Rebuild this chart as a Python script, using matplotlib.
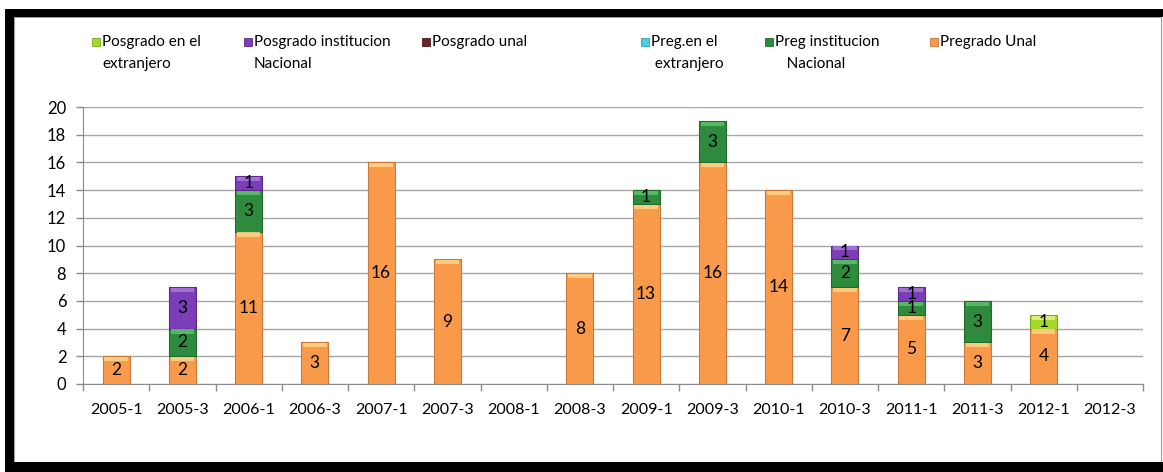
import matplotlib
matplotlib.use('Agg')
import matplotlib.pyplot as plt
from matplotlib.patches import Rectangle
import numpy as np

plt.rcParams['font.family'] = ['Lato', 'DejaVu Sans']

# periods and series values (bottom to top of each stack)
periods = ["2005-1", "2005-3", "2006-1", "2006-3", "2007-1", "2007-3", "2008-1", "2008-3",
           "2009-1", "2009-3", "2010-1", "2010-3", "2011-1", "2011-3", "2012-1", "2012-3"]
pregrado_unal = [2, 2, 11, 3, 16, 9, 0, 8, 13, 16, 14, 7, 5, 3, 4, 0]
preg_inst_nac = [0, 2, 3, 0, 0, 0, 0, 0, 1, 3, 0, 2, 1, 3, 0, 0]
preg_extranjero = [0] * 16
posgrado_unal = [0] * 16
posgrado_inst_nac = [0, 3, 1, 0, 0, 0, 0, 0, 0, 0, 0, 1, 1, 0, 0, 0]
posgrado_extranjero = [0, 0, 0, 0, 0, 0, 0, 0, 0, 0, 0, 0, 0, 0, 1, 0]

series = [
    ("Pregrado Unal", pregrado_unal, "#F89A4A", "#FFD488", "#C8793A"),
    ("Preg institucion\n   Nacional", preg_inst_nac, "#2E8B3D", "#5FC06B", "#226B2E"),
    ("Preg.en el\n extranjero", preg_extranjero, "#4BCFE0", "#9BEAF2", "#2FA0B0"),
    ("Posgrado unal", posgrado_unal, "#6A2525", "#A05050", "#4A1818"),
    ("Posgrado institucion\nNacional", posgrado_inst_nac, "#7B3DB8", "#A77BD8", "#5B2A8C"),
    ("Posgrado en el\nextranjero", posgrado_extranjero, "#A6D82A", "#E2F57A", "#7FA81E"),
]

W, H = 1163, 472
fig = plt.figure(figsize=(W / 100, H / 100), dpi=100)


def px_rect(x0, y0, x1, y1, **kw):
    # rectangle given in pixel coords measured from the top-left corner
    fig.add_artist(Rectangle((x0 / W, 1 - y1 / H), (x1 - x0) / W, (y1 - y0) / H,
                             transform=fig.transFigure, **kw))


# chart frame
px_rect(14, 17, 1161, 462, facecolor="white", edgecolor="#A0A0A0", linewidth=0.8, zorder=-9)
px_rect(5, 9, W, 17, facecolor="black", edgecolor="none")
px_rect(5, 9, 14, H, facecolor="black", edgecolor="none")
px_rect(5, 462, W, H, facecolor="black", edgecolor="none")

ax = fig.add_axes([83 / W, 1 - 384 / H, (1143 - 83) / W, (384 - 107) / H])
x = np.arange(len(periods))
width = 0.41
bottom = np.zeros(len(periods))
for name, vals, color, light, dark in series:
    vals = np.array(vals, dtype=float)
    mask = vals > 0
    if mask.any():
        ax.bar(x[mask], vals[mask], width, bottom=bottom[mask], color=color, edgecolor=dark,
               linewidth=0.8, zorder=3)
        # bevel highlight at the top of each segment
        hl = np.minimum(0.3, vals[mask] * 0.3)
        ax.bar(x[mask], hl, width * 0.86, bottom=bottom[mask] + vals[mask] - hl - 0.06,
               color=light, edgecolor="none", alpha=0.85, zorder=4)
    for xi, b, v in zip(x, bottom, vals):
        if v > 0:
            ax.text(xi, b + v / 2, f"{int(v)}", ha="center", va="center", fontsize=12.5,
                    color="black", zorder=5)
    bottom = bottom + vals

ax.set_xlim(-0.5, len(periods) - 0.5)
ax.set_ylim(0, 20)
ax.set_yticks(range(0, 21, 2))
ax.set_xticks(x)
ax.set_xticklabels(periods)
ax.set_xticks(np.arange(len(periods) + 1) - 0.5, minor=True)
ax.tick_params(axis="x", which="major", length=0, pad=14, labelsize=11.5)
ax.tick_params(axis="x", which="minor", length=5, color="#8C8C8C", width=1, direction="out")
ax.tick_params(axis="y", length=5, color="#8C8C8C", width=1, pad=7, labelsize=12)
ax.grid(axis="y", color="#A6A6A6", linewidth=1, zorder=0)
ax.set_axisbelow(True)
for s in ["top", "right"]:
    ax.spines[s].set_visible(False)
for s in ["left", "bottom"]:
    ax.spines[s].set_color("#8C8C8C")
ax.patch.set_alpha(0)

# legend entries placed like the original
legend_order = [5, 4, 3, 2, 1, 0]
legend_x = [102, 254, 432, 651, 775, 940]
for idx, lx in zip(legend_order, legend_x):
    name, vals, color, light, dark = series[idx]
    px_rect(lx - 10, 38, lx - 2, 46, facecolor=color, edgecolor=dark, linewidth=0.6)
    fig.text(lx / W, 1 - 35 / H, name, ha="left", va="top", fontsize=11, linespacing=1.75)

fig.savefig("out.png", dpi=100)
